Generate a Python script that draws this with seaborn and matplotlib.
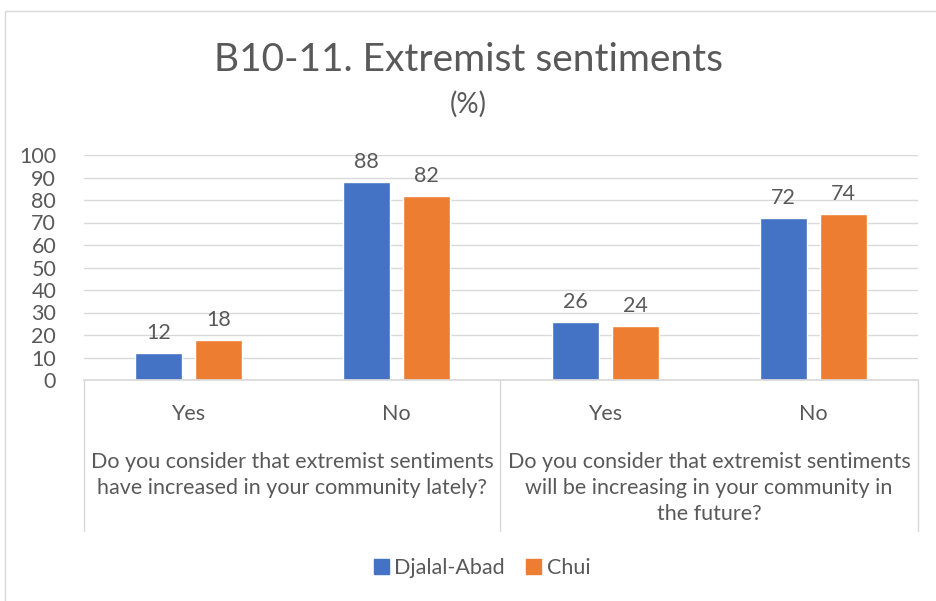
import pandas as pd
import seaborn as sns
from matplotlib import pyplot as plt
from matplotlib.patches import Rectangle
from matplotlib.lines import Line2D

# data
slots = ["q1_yes", "q1_no", "q2_yes", "q2_no"]
answer_labels = ["Yes", "No", "Yes", "No"]
questions = [
    "Do you consider that extremist sentiments\nhave increased in your community lately?",
    "Do you consider that extremist sentiments\nwill be increasing in your community in\nthe future?",
]
regions = ["Djalal-Abad", "Chui"]
djalal_abad = [12, 88, 26, 72]
chui = [18, 82, 24, 74]

df = pd.DataFrame({
    "slot": slots * 2,
    "region": [regions[0]] * 4 + [regions[1]] * 4,
    "value": djalal_abad + chui,
})

sns.set_theme(style="white")
plt.rcParams["font.family"] = ["Lato", "DejaVu Sans"]
grey = "#595959"
colors = ["#4472C4", "#ED7D31"]
fs = 15.5

W, H = 937, 601
fig = plt.figure(figsize=(W / 100, H / 100), dpi=100)
ax = fig.add_axes([84 / W, 1 - 380 / H, (918 - 84) / W, (380 - 155) / H])

sns.barplot(data=df, x="slot", y="value", hue="region", order=slots,
            hue_order=regions, palette=colors, width=0.575, gap=0.22,
            saturation=1, ax=ax, legend=False)

for cont in ax.containers:
    ax.bar_label(cont, fmt="%d", padding=7, fontsize=fs, color=grey)

ax.set_ylim(0, 100)
ax.set_xlim(-0.5, 3.5)
ax.set_yticks(range(0, 101, 10))
ax.tick_params(axis="y", labelsize=fs, labelcolor=grey, length=0, pad=20)
ax.yaxis.grid(True, color="#D9D9D9", linewidth=1)
ax.set_axisbelow(True)
ax.set_xticks(range(4))
ax.set_xticklabels(answer_labels)
ax.tick_params(axis="x", labelsize=fs, labelcolor=grey, length=0, pad=17)
ax.set_xlabel("")
ax.set_ylabel("")
for s in ["top", "right", "left"]:
    ax.spines[s].set_visible(False)
ax.spines["bottom"].set_color("#D9D9D9")

# group separators and question labels
for xp in [84, 500, 918]:
    fig.add_artist(Line2D([xp / W, xp / W], [1 - 380 / H, 1 - 531 / H],
                          color="#D9D9D9", linewidth=1))
fig.text((84 + 500) / 2 / W, 1 - 452 / H, questions[0], ha="center", va="top",
         fontsize=fs, color=grey, linespacing=1.38)
fig.text((500 + 918) / 2 / W, 1 - 452 / H, questions[1], ha="center", va="top",
         fontsize=fs, color=grey, linespacing=1.38)

fig.text(0.5, 1 - 60 / H, "B10-11. Extremist sentiments", ha="center",
         va="center", fontsize=28, color=grey)
fig.text(0.5, 1 - 104 / H, "(%)", ha="center", va="center", fontsize=20,
         color=grey)

# legend
handles = [Rectangle((0, 0), 1, 1, color=c) for c in colors]
fig.legend(handles, regions, loc="center", bbox_to_anchor=(482 / W, 1 - 568 / H),
           ncol=2, frameon=False, fontsize=fs, labelcolor=grey,
           handlelength=0.7, handleheight=0.7, handletextpad=0.25,
           columnspacing=1.0)

# chart border
fig.add_artist(Rectangle((5 / W, -0.1), 1.2, 1 - 11 / H + 0.1,
                         transform=fig.transFigure, fill=False,
                         edgecolor="#D9D9D9", linewidth=1))

fig.savefig("out.png", dpi=100)
